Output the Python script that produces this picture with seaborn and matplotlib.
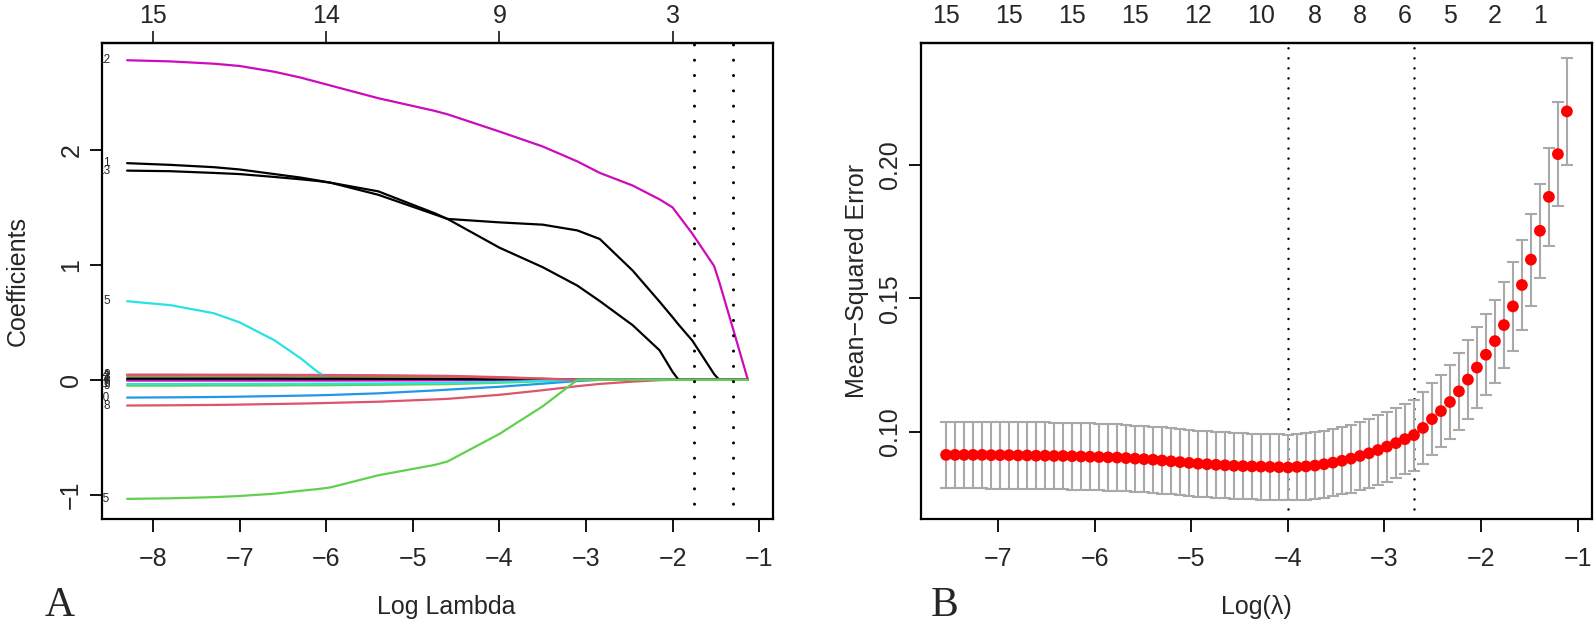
import numpy as np
import pandas as pd
import matplotlib
matplotlib.use("Agg")
import matplotlib.pyplot as plt
import seaborn as sns

# ---- panel A: coefficient paths (log lambda knots) ----
path_x = [-8.3, -7.8, -7.3, -7.0, -6.6, -6.3, -6.1, -5.95, -5.4, -4.75, -4.6, -4.0,
          -3.5, -3.1, -2.84, -2.46, -2.15, -2.0, -1.93, -1.77, -1.52, -1.46, -1.3, -1.13]

coef_v1 = [1.885, 1.87, 1.85, 1.83, 1.79, 1.76, 1.735, 1.715, 1.61, 1.44, 1.40, 1.37,
           1.35, 1.30, 1.225, 0.95, 0.68, 0.545, 0.48, 0.34, 0.05, 0.0, 0.0, 0.0]
coef_v2 = [0.046, 0.046, 0.045, 0.045, 0.044, 0.043, 0.043, 0.042, 0.040, 0.036, 0.035, 0.024,
           0.012, 0.002, 0, 0, 0, 0, 0, 0, 0, 0, 0, 0]
coef_v3 = [0.029, 0.029, 0.028, 0.028, 0.027, 0.027, 0.026, 0.026, 0.024, 0.021, 0.020, 0.014,
           0.007, 0.0, 0, 0, 0, 0, 0, 0, 0, 0, 0, 0]
coef_v4 = [0.003, 0.003, 0.003, 0.003, 0.003, 0.003, 0.003, 0.003, 0.002, 0.002, 0.002, 0.001,
           0.0, 0.0, 0, 0, 0, 0, 0, 0, 0, 0, 0, 0]
coef_v5 = [0.684, 0.65, 0.58, 0.50, 0.345, 0.19, 0.07, 0.0, 0, 0, 0, 0,
           0, 0, 0, 0, 0, 0, 0, 0, 0, 0, 0, 0]
coef_v6 = [-0.006, -0.006, -0.006, -0.006, -0.006, -0.006, -0.006, -0.006, -0.005, -0.004, -0.004, -0.003,
           -0.001, 0.0, 0, 0, 0, 0, 0, 0, 0, 0, 0, 0]
coef_v7 = [0.011, 0.011, 0.011, 0.011, 0.011, 0.010, 0.010, 0.010, 0.009, 0.008, 0.008, 0.005,
           0.002, 0.0, 0, 0, 0, 0, 0, 0, 0, 0, 0, 0]
coef_v8 = [-0.223, -0.221, -0.218, -0.215, -0.21, -0.206, -0.203, -0.2, -0.19, -0.17, -0.165, -0.13,
           -0.09, -0.055, -0.035, -0.015, -0.003, 0, 0, 0, 0, 0, 0, 0]
coef_v9 = [-0.05, -0.05, -0.049, -0.049, -0.048, -0.047, -0.047, -0.046, -0.043, -0.038, -0.037, -0.025,
           -0.012, -0.002, 0, 0, 0, 0, 0, 0, 0, 0, 0, 0]
coef_v10 = [-0.154, -0.152, -0.149, -0.146, -0.141, -0.137, -0.134, -0.131, -0.117, -0.092, -0.085, -0.06,
            -0.033, -0.01, 0, 0, 0, 0, 0, 0, 0, 0, 0, 0]
coef_v11 = [-0.036, -0.036, -0.035, -0.035, -0.034, -0.034, -0.033, -0.033, -0.031, -0.027, -0.026, -0.018,
            -0.009, -0.001, 0, 0, 0, 0, 0, 0, 0, 0, 0, 0]
coef_v12 = [2.78, 2.77, 2.75, 2.73, 2.68, 2.63, 2.59, 2.56, 2.45, 2.34, 2.31, 2.16,
            2.03, 1.90, 1.80, 1.69, 1.57, 1.50, 1.43, 1.27, 0.99, 0.85, 0.44, 0.0]
coef_v13 = [1.82, 1.815, 1.80, 1.79, 1.765, 1.745, 1.73, 1.715, 1.64, 1.45, 1.40, 1.15,
            0.98, 0.82, 0.685, 0.475, 0.257, 0.07, 0.0, 0, 0, 0, 0, 0]
coef_v14 = [0.040, 0.040, 0.040, 0.039, 0.039, 0.038, 0.038, 0.037, 0.035, 0.031, 0.030, 0.020,
            0.010, 0.0, 0, 0, 0, 0, 0, 0, 0, 0, 0, 0]
coef_v15 = [-1.035, -1.03, -1.02, -1.01, -0.99, -0.965, -0.95, -0.935, -0.83, -0.74, -0.71, -0.47,
            -0.23, 0.0, 0, 0, 0, 0, 0, 0, 0, 0, 0, 0]

coef_paths = [coef_v1, coef_v2, coef_v3, coef_v4, coef_v5, coef_v6, coef_v7, coef_v8,
              coef_v9, coef_v10, coef_v11, coef_v12, coef_v13, coef_v14, coef_v15]

# R default palette, cycled 1:6 like matplot
r_cols = ["#000000", "#DF536B", "#61D04F", "#2297E6", "#28E2E5", "#CD0BBC"]

top_ticks_a = [-8, -6, -4, -2]
top_labels_a = ["15", "14", "9", "3"]
vlines_a = [-1.75, -1.30]

# ---- panel B: cross-validation curve ----
log_lam_first, log_lam_last, n_lambda = -7.54, -1.11, 70
mse = [0.0914, 0.0914, 0.0914, 0.0914, 0.0914, 0.0913, 0.0913, 0.0913, 0.0912, 0.0912,
       0.0911, 0.0911, 0.0910, 0.0910, 0.0909, 0.0908, 0.0907, 0.0906, 0.0905, 0.0904,
       0.0902, 0.0900, 0.0898, 0.0896, 0.0893, 0.0890, 0.0887, 0.0884, 0.0881, 0.0879,
       0.0877, 0.0875, 0.0873, 0.0872, 0.0871, 0.0870, 0.0869, 0.0868, 0.0867, 0.0869,
       0.0871, 0.0874, 0.0879, 0.0885, 0.0892, 0.0900, 0.0910, 0.0920, 0.0932, 0.0945,
       0.0958, 0.0973, 0.0988, 0.1015, 0.1048, 0.1078, 0.1112, 0.1152, 0.1196, 0.1241,
       0.1289, 0.1340, 0.1400, 0.1470, 0.1550, 0.1645, 0.1753, 0.1880, 0.2040, 0.2200]
mse_se = [0.0125, 0.0125, 0.0125, 0.0125, 0.0125, 0.0125, 0.0125, 0.0125, 0.0125, 0.0125,
          0.0125, 0.0125, 0.0125, 0.0125, 0.0125, 0.0125, 0.0125, 0.0125, 0.0125, 0.0124,
          0.0124, 0.0124, 0.0124, 0.0124, 0.0124, 0.0124, 0.0124, 0.0124, 0.0124, 0.0123,
          0.0123, 0.0123, 0.0123, 0.0123, 0.0123, 0.0123, 0.0123, 0.0123, 0.0123, 0.0124,
          0.0124, 0.0125, 0.0125, 0.0126, 0.0126, 0.0127, 0.0128, 0.0129, 0.0130, 0.0131,
          0.0131, 0.0132, 0.0133, 0.0135, 0.0135, 0.0135, 0.0140, 0.0144, 0.0148, 0.0150,
          0.0152, 0.0155, 0.0160, 0.0166, 0.0168, 0.0172, 0.0177, 0.0183, 0.0194, 0.0200]
nz_index = [0, 7, 14, 21, 28, 35, 41, 46, 51, 56, 61, 66]
nz_labels = ["15", "15", "15", "15", "12", "10", "8", "8", "6", "5", "2", "1"]
min_index, se1_index = 38, 52

# ---- style ----
sns.set_theme(style="ticks")
plt.rcParams["font.family"] = ["Liberation Sans", "DejaVu Sans"]
plt.rcParams["axes.unicode_minus"] = True
FS = 18

W, H = 1594, 623
fig = plt.figure(figsize=(W / 100, H / 100), dpi=100)
box_top, box_bot = 43, 519
ax1 = fig.add_axes([102 / W, 1 - box_bot / H, 671 / W, (box_bot - box_top) / H])
ax2 = fig.add_axes([921 / W, 1 - box_bot / H, 671 / W, (box_bot - box_top) / H])

# panel A lines
rows = []
for i, ys in enumerate(coef_paths):
    for xv, yv in zip(path_x, ys):
        rows.append({"var": f"V{i + 1}", "log_lambda": xv, "coef": yv})
df_a = pd.DataFrame(rows)
pal = {f"V{i + 1}": r_cols[i % 6] for i in range(len(coef_paths))}
sns.lineplot(data=df_a, x="log_lambda", y="coef", hue="var", palette=pal,
             estimator=None, sort=False, legend=False, linewidth=1.6, ax=ax1)
for i, ys in enumerate(coef_paths):
    ax1.text(path_x[0] - 0.2, ys[0], str(i + 1), fontsize=8.5, ha="right", va="center",
             clip_on=True)
for v in vlines_a:
    ax1.axvline(v, color="black", lw=2.2, linestyle=(0, (0.01, 5)), dash_capstyle="round")
ax1.set_xlim(-8.59, -0.84)
ax1.set_ylim(-1.21, 2.93)
ax1.set_xticks([-8, -7, -6, -5, -4, -3, -2, -1])
ax1.set_yticks([-1, 0, 1, 2])
ax1.set_xlabel("")
ax1.set_ylabel("")
top1 = ax1.secondary_xaxis("top")
top1.set_xticks(top_ticks_a, labels=top_labels_a)
top1.tick_params(length=9, width=1.3, labelsize=FS, pad=1.5)
top1.spines["top"].set_linewidth(1.6)

# panel B
log_lam = np.linspace(log_lam_first, log_lam_last, n_lambda)
ax2.errorbar(log_lam, mse, yerr=mse_se, fmt="none", ecolor="darkgrey",
             elinewidth=1.5, capsize=4.6, capthick=1.5, zorder=2)
sns.scatterplot(x=log_lam, y=mse, color="red", s=72, edgecolor="none", zorder=3, ax=ax2)
for idx in (min_index, se1_index):
    ax2.axvline(log_lam[idx], color="black", lw=1.8, linestyle=(0, (0.01, 4)),
                dash_capstyle="round", zorder=1)
ax2.set_xlim(-7.80, -0.85)
ax2.set_ylim(0.0674, 0.2456)
ax2.set_xticks([-7, -6, -5, -4, -3, -2, -1])
ax2.set_yticks([0.10, 0.15, 0.20], labels=["0.10", "0.15", "0.20"])
top2 = ax2.secondary_xaxis("top")
top2.set_xticks([log_lam[i] for i in nz_index], labels=nz_labels)
top2.tick_params(length=0, labelsize=FS, pad=10.5)
top2.spines["top"].set_linewidth(1.6)

for ax in (ax1, ax2):
    for s in ax.spines.values():
        s.set_visible(True)
        s.set_linewidth(1.6)
        s.set_color("black")
    ax.tick_params(direction="out", length=9, width=1.3, labelsize=FS, color="black")
    ax.tick_params(axis="x", pad=11.5)
    ax.tick_params(axis="y", pad=4.5)
    for lab in ax.get_yticklabels():
        lab.set_rotation(90)
        lab.set_va("center")

fig.text(18 / W, 1 - 281 / H, "Coefficients", rotation=90, ha="center", va="center", fontsize=FS)
fig.text(857 / W, 1 - 281 / H, "Mean\u2212Squared Error", rotation=90, ha="center", va="center", fontsize=FS)
fig.text(446 / W, 1 - 607 / H, "Log Lambda", ha="center", va="center", fontsize=FS)
fig.text(1256 / W, 1 - 607 / H, "Log(\u03bb)", ha="center", va="center", fontsize=FS)
fig.text(60 / W, 1 - 606 / H, "A", ha="center", va="center", fontsize=30, family="Liberation Serif")
fig.text(945 / W, 1 - 606 / H, "B", ha="center", va="center", fontsize=30, family="Liberation Serif")

fig.savefig("out.png", dpi=100, facecolor="white")
